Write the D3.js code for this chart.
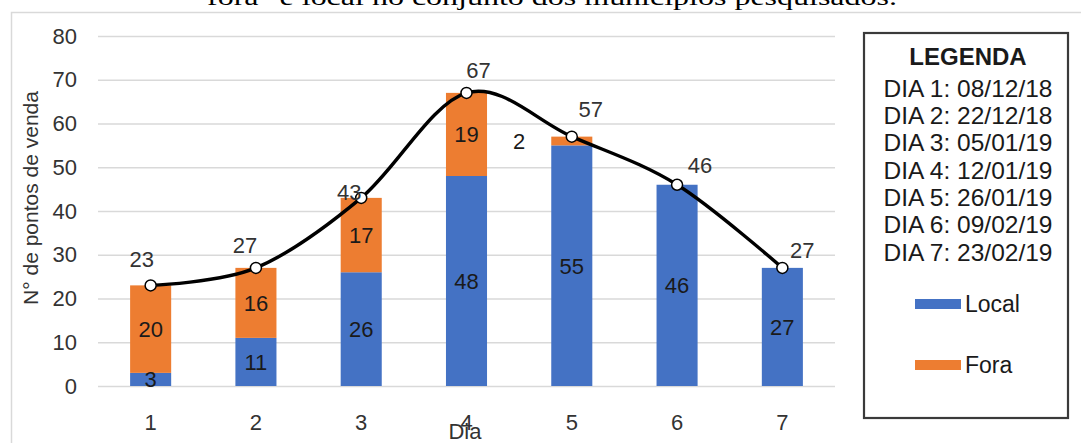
<!DOCTYPE html>
<html>
<head>
<meta charset="utf-8">
<script src="https://cdn.jsdelivr.net/npm/d3@7"></script>
<style>
  html, body { margin: 0; padding: 0; background: #fff; }
  svg { display: block; }
  text { font-family: "Liberation Sans", Arial, sans-serif; fill: #262626; }
</style>
</head>
<body>
<svg id="chart" width="1081" height="443"></svg>
<script>
// values
const days = ['1', '2', '3', '4', '5', '6', '7']
const local = [3, 11, 26, 48, 55, 46, 27]
const fora = [20, 16, 17, 19, 2, 0, 0]
const totals = [23, 27, 43, 67, 57, 46, 27]
const yTicks = [0, 10, 20, 30, 40, 50, 60, 70, 80]
const seriesNames = ['Local', 'Fora']
const legendDates = ['DIA 1: 08/12/18', 'DIA 2: 22/12/18', 'DIA 3: 05/01/19', 'DIA 4: 12/01/19',
  'DIA 5: 26/01/19', 'DIA 6: 09/02/19', 'DIA 7: 23/02/19']
const titleText = 'fora" e local no conjunto dos municípios pesquisados.'

// where each total label sits relative to its marker (dx, dy)
const totalNudge = [[-9, -26], [-11, -23], [-12, -6], [12, -23], [19, -28], [23, -20], [20, -18]]

const colors = { Local: '#4472C4', Fora: '#ED7D31' }
const plot = { left: 98, right: 835, top: 36, bottom: 386 }

const svg = d3.select('#chart')

// outer chart frame (only its top / left edges are in view)
svg.append('rect')
  .attr('x', 11.5).attr('y', 12.5)
  .attr('width', 1200).attr('height', 600)
  .attr('fill', 'none').attr('stroke', '#d9d9d9').attr('stroke-width', 1.5)

// cut-off caption line from the page above
svg.append('text')
  .attr('x', 207).attr('y', 5)
  .attr('textLength', 690).attr('lengthAdjust', 'spacingAndGlyphs')
  .style('font-family', '"Liberation Serif", "Times New Roman", serif')
  .style('font-size', '24px').style('fill', '#000')
  .text(titleText)

const x = d3.scaleBand()
  .domain(days)
  .range([plot.left, plot.right])
  .paddingInner(0.61)
  .paddingOuter(0.305)

const y = d3.scaleLinear().domain([0, 80]).range([plot.bottom, plot.top])

const cx = d => x(d) + x.bandwidth() / 2

// y axis + gridlines
const yAxis = svg.append('g')
  .attr('transform', `translate(${plot.left},0)`)
  .call(d3.axisLeft(y).tickValues(yTicks).tickSize(-(plot.right - plot.left)).tickPadding(21))
yAxis.select('.domain').remove()
yAxis.selectAll('line').attr('stroke', '#d9d9d9').attr('stroke-width', 1.5)
yAxis.selectAll('text').style('font-size', '22px').style('fill', '#333')
  .style('font-family', '"Liberation Sans", Arial, sans-serif')

// x axis labels
const xAxis = svg.append('g')
  .attr('transform', `translate(0,${plot.bottom})`)
  .call(d3.axisBottom(x).tickSize(0).tickPadding(28))
xAxis.select('.domain').remove()
xAxis.selectAll('text').style('font-size', '22px').style('fill', '#333')
  .style('font-family', '"Liberation Sans", Arial, sans-serif')

// axis titles
svg.append('text')
  .attr('transform', 'translate(38,198) rotate(-90)')
  .attr('text-anchor', 'middle')
  .style('font-size', '21px').style('fill', '#333')
  .text('N° de pontos de venda')

svg.append('text')
  .attr('x', 465).attr('y', 439)
  .attr('text-anchor', 'middle')
  .style('font-size', '22px').style('fill', '#333')
  .text('Dia')

// stacked bars
const rows = days.map((d, i) => ({ day: d, Local: local[i], Fora: fora[i] }))
const stacked = d3.stack().keys(seriesNames)(rows)

const layers = svg.append('g').selectAll('g')
  .data(stacked)
  .join('g')
  .attr('fill', s => colors[s.key])

layers.selectAll('rect')
  .data(s => s)
  .join('rect')
  .attr('x', d => x(d.data.day))
  .attr('width', x.bandwidth())
  .attr('y', d => y(d[1]))
  .attr('height', d => y(d[0]) - y(d[1]))

// segment labels (too thin segments get their label beside the bar)
const segLabels = []
stacked.forEach(s => s.forEach(d => {
  const v = d[1] - d[0]
  if (v > 0) segLabels.push({ day: d.data.day, v, mid: (d[0] + d[1]) / 2 })
}))

svg.append('g').selectAll('text')
  .data(segLabels)
  .join('text')
  .attr('x', d => d.v < 3 ? cx(d.day) - x.step() / 2 : cx(d.day))
  .attr('y', d => y(d.mid))
  .attr('dy', '0.36em')
  .attr('text-anchor', 'middle')
  .style('font-size', '22px').style('fill', '#1a1a1a')
  .text(d => d.v)

// smoothed total line
const line = d3.line()
  .x((d, i) => cx(days[i]))
  .y(d => y(d))
  .curve(d3.curveCardinal.tension(0))

svg.append('path')
  .datum(totals)
  .attr('d', line)
  .attr('fill', 'none')
  .attr('stroke', '#000')
  .attr('stroke-width', 3.4)

svg.append('g').selectAll('circle')
  .data(totals)
  .join('circle')
  .attr('cx', (d, i) => cx(days[i]))
  .attr('cy', d => y(d))
  .attr('r', 5.5)
  .attr('fill', '#fff')
  .attr('stroke', '#000')
  .attr('stroke-width', 1.5)

svg.append('g').selectAll('text')
  .data(totals)
  .join('text')
  .attr('x', (d, i) => cx(days[i]) + totalNudge[i][0])
  .attr('y', (d, i) => y(d) + totalNudge[i][1])
  .attr('dy', '0.36em')
  .attr('text-anchor', 'middle')
  .style('font-size', '22px').style('fill', '#333')
  .text(d => d)

// legend box
const lg = svg.append('g')
lg.append('rect')
  .attr('x', 864).attr('y', 33)
  .attr('width', 204).attr('height', 385)
  .attr('fill', '#fff').attr('stroke', '#3a3a3a').attr('stroke-width', 2.2)

const lgCx = 968
lg.append('text')
  .attr('x', lgCx).attr('y', 56).attr('dy', '0.36em')
  .attr('text-anchor', 'middle')
  .style('font-size', '24px').style('font-weight', 'bold').style('fill', '#1a1a1a')
  .text('LEGENDA')

lg.selectAll('text.date')
  .data(legendDates)
  .join('text')
  .attr('class', 'date')
  .attr('x', lgCx)
  .attr('y', (d, i) => 88 + i * 27.3)
  .attr('dy', '0.36em')
  .attr('text-anchor', 'middle')
  .style('font-size', '24.5px').style('fill', '#1a1a1a')
  .text(d => d)

const keys = lg.selectAll('g.key')
  .data(seriesNames)
  .join('g')
  .attr('class', 'key')
  .attr('transform', (d, i) => `translate(915,${304 + i * 61})`)

keys.append('rect')
  .attr('x', 0).attr('y', -5)
  .attr('width', 46).attr('height', 10)
  .attr('fill', d => colors[d])

keys.append('text')
  .attr('x', 50).attr('dy', '0.36em')
  .style('font-size', '23px').style('fill', '#1a1a1a')
  .text(d => d)
</script>
</body>
</html>
